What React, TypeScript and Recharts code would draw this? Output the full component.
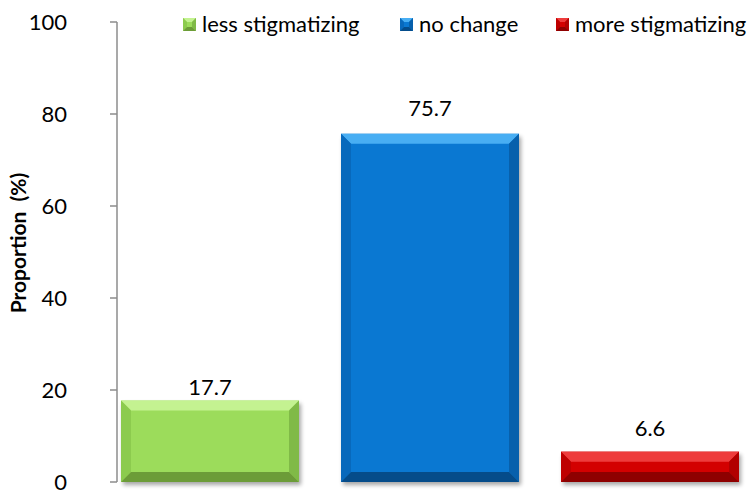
import React from 'react';
import { BarChart, Bar, XAxis, YAxis, LabelList, Label } from 'recharts';

const categories = [''];
const seriesNames = ['less stigmatizing', 'no change', 'more stigmatizing'];
const lessValues = [17.7];
const noChangeValues = [75.7];
const moreValues = [6.6];
const yTicks = [0, 20, 40, 60, 80, 100];

const data = categories.map((c, i) => ({
  name: c,
  less: lessValues[i],
  none: noChangeValues[i],
  more: moreValues[i],
}));

const palettes = [
  { center: '#9CDC5B', top: '#C4F291', left: '#8CCB4E', right: '#80BA47', bottom: '#6C9C38' },
  { center: '#0A78D2', top: '#48AEF3', left: '#0869BC', right: '#0760AC', bottom: '#054C8A' },
  { center: '#D30000', top: '#EE3C3C', left: '#BE0000', right: '#B20000', bottom: '#8E0000' },
];

const FONT = 'Lato, "Open Sans", sans-serif';

function bevelPolys(x: number, y: number, w: number, h: number, b: number, p: any) {
  const bb = Math.min(b, h / 2, w / 2);
  return (
    <>
      <rect x={x} y={y} width={w} height={h} fill={p.center} />
      <polygon points={`${x},${y} ${x + w},${y} ${x + w - bb},${y + bb} ${x + bb},${y + bb}`} fill={p.top} />
      <polygon points={`${x},${y} ${x + bb},${y + bb} ${x + bb},${y + h - bb} ${x},${y + h}`} fill={p.left} />
      <polygon points={`${x + w},${y} ${x + w},${y + h} ${x + w - bb},${y + h - bb} ${x + w - bb},${y + bb}`} fill={p.right} />
      <polygon points={`${x},${y + h} ${x + bb},${y + h - bb} ${x + w - bb},${y + h - bb} ${x + w},${y + h}`} fill={p.bottom} />
    </>
  );
}

const makeShape = (idx: number) => (props: any) => {
  const { x, y, width, height } = props;
  if (!width || !height) return <g />;
  const fid = `shadow-${idx}`;
  return (
    <g>
      <defs>
        <filter id={fid} x="-10%" y="-10%" width="120%" height="130%">
          <feGaussianBlur stdDeviation="2" />
        </filter>
      </defs>
      <rect x={x + 2} y={y + 3} width={width} height={height} fill="#000" opacity={0.35} filter={`url(#${fid})`} />
      {bevelPolys(x, y, width, height, 10, palettes[idx])}
    </g>
  );
};

const legendX = [183, 400, 556];

const LegendOverlay = () => (
  <div style={{ position: 'absolute', left: 0, top: 0, width: 748, height: 40, pointerEvents: 'none' }}>
    {seriesNames.map((n, i) => (
      <div
        key={n}
        style={{ position: 'absolute', left: legendX[i], top: 10, height: 28, display: 'flex', alignItems: 'center', whiteSpace: 'nowrap' }}
      >
        <svg width={13} height={13} style={{ display: 'block' }}>
          {bevelPolys(0, 0, 13, 13, 4, palettes[i])}
        </svg>
        <span style={{ marginLeft: 6, fontFamily: FONT, fontSize: 22, color: '#000', lineHeight: '28px' }}>{n}</span>
      </div>
    ))}
  </div>
);

const YLabel = (props: any) => {
  const cy = 243;
  return (
    <text
      x={26}
      y={cy}
      transform={`rotate(-90, 26, ${cy})`}
      textAnchor="middle"
      fontFamily={FONT}
      fontWeight="bold"
      fontSize={21}
      fill="#000"
      style={{ whiteSpace: 'pre' }}
    >
      {'Proportion  (%)'}
    </text>
  );
};

export default function App() {
  return (
    <div style={{ position: 'absolute', left: 0, top: 0, width: 748, height: 491, background: '#fff' }}>
      <BarChart
        width={748}
        height={491}
        data={data}
        margin={{ top: 22, right: 5, bottom: 9, left: 0 }}
        barSize={178}
        barGap={42}
        barCategoryGap={0}
      >
        <XAxis dataKey="name" hide />
        <YAxis
          width={117}
          domain={[0, 100]}
          ticks={yTicks}
          interval={0}
          tickSize={7}
          tickMargin={43}
          axisLine={{ stroke: '#8C8C8C', strokeWidth: 1.5 }}
          tickLine={{ stroke: '#8C8C8C', strokeWidth: 1.5 }}
          tick={{ fill: '#000', fontSize: 22, fontFamily: FONT }}
        >
          <Label content={<YLabel />} />
        </YAxis>
        <Bar dataKey="less" name={seriesNames[0]} shape={makeShape(0)} isAnimationActive={false}>
          <LabelList dataKey="less" position="top" offset={6} fill="#000" fontSize={22} fontFamily={FONT} />
        </Bar>
        <Bar dataKey="none" name={seriesNames[1]} shape={makeShape(1)} isAnimationActive={false}>
          <LabelList dataKey="none" position="top" offset={18} fill="#000" fontSize={22} fontFamily={FONT} />
        </Bar>
        <Bar dataKey="more" name={seriesNames[2]} shape={makeShape(2)} isAnimationActive={false}>
          <LabelList dataKey="more" position="top" offset={16} fill="#000" fontSize={22} fontFamily={FONT} />
        </Bar>
      </BarChart>
      <LegendOverlay />
    </div>
  );
}
